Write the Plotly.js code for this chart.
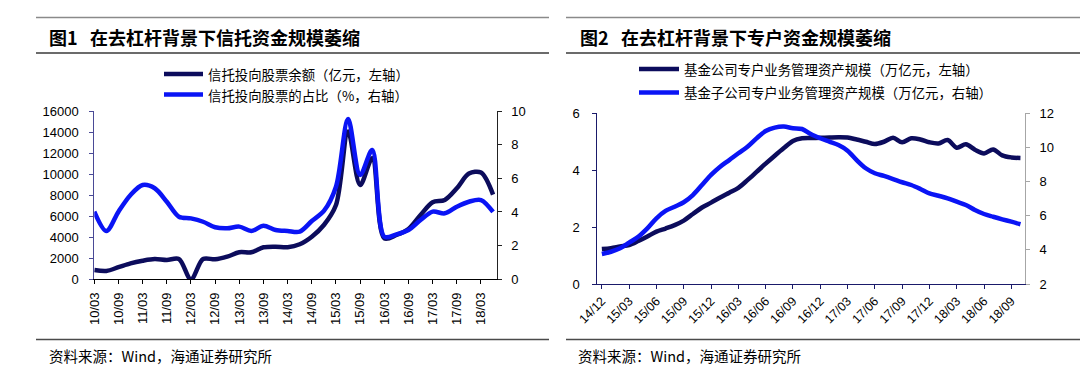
<!DOCTYPE html>
<html>
<head>
<meta charset="utf-8">
<script src="https://cdn.plot.ly/plotly-3.0.1.min.js"></script>
<style>
html,body{margin:0;padding:0;background:#fff;}
#chart{width:1080px;height:369px;}
</style>
</head>
<body>
<div id="chart"></div>
<script>
// ---------- Figure 1 data (quarterly) ----------
const quarters = ['10/03','10/06','10/09','10/12','11/03','11/06','11/09','11/12',
  '12/03','12/06','12/09','12/12','13/03','13/06','13/09','13/12',
  '14/03','14/06','14/09','14/12','15/03','15/06','15/09','15/12',
  '16/03','16/06','16/09','16/12','17/03','17/06','17/09','17/12',
  '18/03','18/06'];
const quarterTicks = ['10/03','10/09','11/03','11/09','12/03','12/09','13/03','13/09',
  '14/03','14/09','15/03','15/09','16/03','16/09','17/03','17/09','18/03'];
// 信托投向股票余额（亿元）
const trustBalance = [884, 790, 1150, 1520, 1770, 1930, 1835, 1930,
  0, 1930, 1900, 2150, 2570, 2570, 3040, 3100,
  3050, 3330, 4050, 5160, 7060, 14050, 8960, 11500,
  3900, 4210, 4780, 6110, 7320, 7540, 8650, 10050,
  10150, 8050];
// 信托投向股票的占比（%）
const trustShare = [4.02, 2.87, 4.02, 5.01, 5.60, 5.41, 4.61, 3.72,
  3.62, 3.42, 3.09, 3.03, 3.13, 2.87, 3.18, 2.93,
  2.87, 2.83, 3.46, 4.06, 5.50, 9.52, 6.20, 7.68,
  2.53, 2.67, 2.93, 3.52, 4.02, 3.92, 4.31, 4.61,
  4.71, 4.00];

// ---------- Figure 2 data (monthly) ----------
const months = ['14/12',
  '15/01','15/02','15/03','15/04','15/05','15/06','15/07','15/08','15/09','15/10','15/11','15/12',
  '16/01','16/02','16/03','16/04','16/05','16/06','16/07','16/08','16/09','16/10','16/11','16/12',
  '17/01','17/02','17/03','17/04','17/05','17/06','17/07','17/08','17/09','17/10','17/11','17/12',
  '18/01','18/02','18/03','18/04','18/05','18/06','18/07','18/08','18/09','18/10'];
const monthTicks = ['14/12','15/03','15/06','15/09','15/12','16/03','16/06','16/09',
  '16/12','17/03','17/06','17/09','17/12','18/03','18/06','18/09'];
// 基金公司专户业务管理资产规模（万亿元）
const fundCo = [1.23,
  1.26, 1.32, 1.37, 1.51, 1.67, 1.84, 1.95, 2.07, 2.23, 2.46, 2.69, 2.86,
  3.04, 3.21, 3.38, 3.65, 3.94, 4.23, 4.51, 4.78, 5.03, 5.12, 5.13, 5.14,
  5.15, 5.16, 5.15, 5.08, 5.00, 4.92, 5.00, 5.14, 4.98, 5.12, 5.08, 4.98,
  4.94, 5.06, 4.79, 4.91, 4.72, 4.59, 4.73, 4.52, 4.45, 4.43];
// 基金子公司专户业务管理资产规模（万亿元）
const fundSub = [3.76,
  3.89, 4.09, 4.42, 4.77, 5.26, 5.85, 6.28, 6.53, 6.79, 7.21, 7.80, 8.39,
  8.87, 9.26, 9.66, 10.04, 10.53, 10.96, 11.16, 11.22, 11.12, 11.08, 10.77, 10.54,
  10.34, 10.14, 9.81, 9.26, 8.78, 8.49, 8.33, 8.15, 7.96, 7.80, 7.57, 7.31,
  7.17, 7.02, 6.82, 6.63, 6.34, 6.10, 5.94, 5.79, 5.65, 5.50];

// ---------- styling ----------
const W = 1080, H = 369;
const px = x => x / W;
const py = y => 1 - y / H;
const NAVY = '#0c0c5c';
const BLUE = '#0a14f5';
const NUM_FONT = 'Liberation Sans, Arial, sans-serif';
const CJK_FONT = 'Noto Sans CJK SC, sans-serif';
const tickFont = {family: NUM_FONT, size: 13, color: '#000'};
const LW = 4.5;

const traces = [
  {x: quarters, y: trustBalance, xaxis: 'x', yaxis: 'y', type: 'scatter', mode: 'lines',
   line: {color: NAVY, width: LW, shape: 'spline', smoothing: 0.9}, hoverinfo: 'skip'},
  {x: quarters, y: trustShare, xaxis: 'x', yaxis: 'y2', type: 'scatter', mode: 'lines',
   line: {color: BLUE, width: LW, shape: 'spline', smoothing: 0.9}, hoverinfo: 'skip'},
  {x: months, y: fundCo, xaxis: 'x2', yaxis: 'y3', type: 'scatter', mode: 'lines',
   line: {color: NAVY, width: LW, shape: 'spline', smoothing: 0.9}, hoverinfo: 'skip'},
  {x: months, y: fundSub, xaxis: 'x2', yaxis: 'y4', type: 'scatter', mode: 'lines',
   line: {color: BLUE, width: LW, shape: 'spline', smoothing: 0.9}, hoverinfo: 'skip'}
];

const commonAxis = {showgrid: false, zeroline: false, showline: true, ticks: 'outside',
  ticklen: 4, tickwidth: 1, tickfont: tickFont, fixedrange: true};

const layout = {
  width: W, height: H,
  margin: {l: 0, r: 0, t: 0, b: 0},
  paper_bgcolor: '#fff', plot_bgcolor: 'rgba(0,0,0,0)',
  showlegend: false,
  xaxis: Object.assign({}, commonAxis, {
    domain: [px(94.3), px(496.7)], anchor: 'y', type: 'category',
    range: [0, 33.3], tickmode: 'array', tickvals: quarterTicks, ticktext: quarterTicks,
    tickangle: -90, linecolor: '#000', tickcolor: '#000', ticklabelstandoff: 3
  }),
  yaxis: Object.assign({}, commonAxis, {
    domain: [py(279.3), py(111)], anchor: 'x', range: [0, 16000], dtick: 2000,
    tickformat: 'd', linecolor: '#4a4a96', tickcolor: '#4a4a96', ticklabelstandoff: 8
  }),
  yaxis2: Object.assign({}, commonAxis, {
    overlaying: 'y', side: 'right', anchor: 'x', range: [0, 10], dtick: 2,
    linecolor: '#222', tickcolor: '#222', ticklabelstandoff: 7
  }),
  xaxis2: Object.assign({}, commonAxis, {
    domain: [px(597.3), px(1025)], anchor: 'y3', type: 'category',
    range: [-0.5, 46.5], tickmode: 'array', tickvals: monthTicks, ticktext: monthTicks,
    tickangle: -45, linecolor: '#1a1a6a', tickcolor: '#1a1a6a',
    tickfont: {family: NUM_FONT, size: 12.5, color: '#000'}
  }),
  yaxis3: Object.assign({}, commonAxis, {
    domain: [py(284), py(113.3)], anchor: 'x2', range: [0, 6], dtick: 2,
    linecolor: '#1a1a6a', tickcolor: '#1a1a6a', ticklabelstandoff: 10
  }),
  yaxis4: Object.assign({}, commonAxis, {
    overlaying: 'y3', side: 'right', anchor: 'x2', range: [2, 12], dtick: 2,
    linecolor: '#a6a6a6', tickcolor: '#a6a6a6', ticklabelstandoff: 7
  }),
  shapes: [],
  annotations: []
};

// frame rules
function rule(x0, x1, y, color, w) {
  layout.shapes.push({type: 'line', xref: 'paper', yref: 'paper',
    x0: px(x0), x1: px(x1), y0: py(y), y1: py(y), line: {color: color, width: w}});
}
rule(36, 549, 17.5, '#8a8a8a', 1.5);
rule(566, 1080, 17.5, '#8a8a8a', 1.5);
rule(36, 549, 53, '#3a3a3a', 1.5);
rule(566, 1080, 53, '#3a3a3a', 1.5);
rule(36, 549, 339.5, '#4a4a4a', 1.5);
rule(566, 1080, 339.5, '#4a4a4a', 1.5);

function text(x, y, t, size, opts) {
  layout.annotations.push(Object.assign({
    xref: 'paper', yref: 'paper', x: px(x), y: py(y), text: t, showarrow: false,
    xanchor: 'left', yanchor: 'middle',
    font: {family: CJK_FONT, size: size, color: '#000'}
  }, opts || {}));
}
// titles
text(47, 36.5, '<b>图1</b>', 18);
text(88, 36.5, '<b>在去杠杆背景下信托资金规模萎缩</b>', 18);
text(578, 36.5, '<b>图2</b>', 18);
text(619, 36.5, '<b>在去杠杆背景下专户资金规模萎缩</b>', 18);

// legends
function legendItem(x0, x1, y, color, label) {
  layout.shapes.push({type: 'line', xref: 'paper', yref: 'paper',
    x0: px(x0), x1: px(x1), y0: py(y), y1: py(y), line: {color: color, width: LW}});
  text(x1 + 3, y, label, 13.4);
}
legendItem(164, 203, 74, NAVY, '信托投向股票余额（亿元，左轴）');
legendItem(164, 203, 94.5, BLUE, '信托投向股票的占比（%，右轴）');
legendItem(639, 679, 69, NAVY, '基金公司专户业务管理资产规模（万亿元，左轴）');
legendItem(639, 679, 92.5, BLUE, '基金子公司专户业务管理资产规模（万亿元，右轴）');

// sources
text(47, 355, '资料来源：Wind，海通证券研究所', 14.5);
text(576, 355, '资料来源：Wind，海通证券研究所', 14.5);

Plotly.newPlot('chart', traces, layout, {staticPlot: true, displayModeBar: false});
</script>
</body>
</html>
